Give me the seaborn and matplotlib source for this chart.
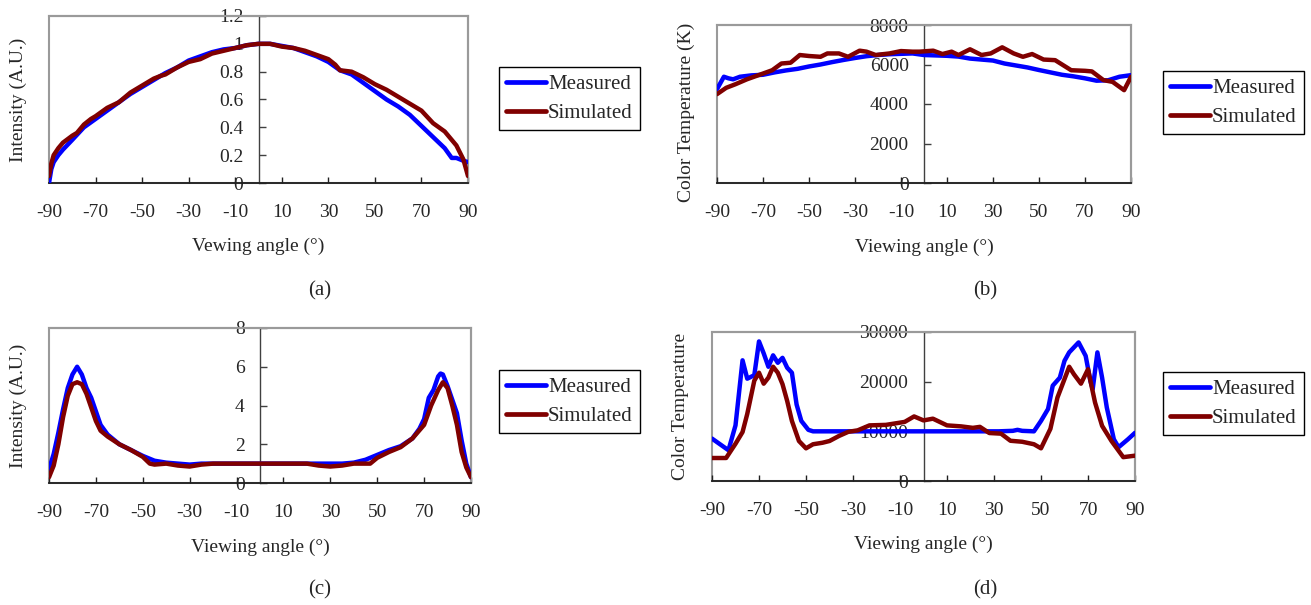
import numpy as np
import pandas as pd
import matplotlib
matplotlib.use("Agg")
import matplotlib.pyplot as plt
import seaborn as sns
from matplotlib.patches import Rectangle
from matplotlib.lines import Line2D

# ---------------- data ----------------
# (a) intensity, normal
a_x_meas = [-90, -89, -88, -86, -84, -80, -75, -70, -65, -60,
            -55, -50, -45, -40, -35, -30, -25, -20, -15, -10,
            -5, 0, 5, 10, 15, 20, 25, 30, 35, 40,
            45, 50, 55, 60, 65, 70, 75, 80, 83, 85,
            88, 90]
a_meas = [0.0, 0.10, 0.15, 0.20, 0.24, 0.31, 0.40, 0.46, 0.52, 0.58,
          0.64, 0.69, 0.74, 0.79, 0.83, 0.88, 0.91, 0.94, 0.96, 0.97,
          0.99, 1.0, 1.0, 0.985, 0.97, 0.94, 0.91, 0.87, 0.81, 0.78,
          0.72, 0.66, 0.60, 0.55, 0.49, 0.41, 0.33, 0.25, 0.18, 0.18,
          0.16, 0.15]
a_x_sim = [-90, -89, -88, -86, -84, -80, -78, -75, -72, -70,
           -65, -60, -55, -50, -45, -42, -40, -35, -30, -25,
           -20, -15, -10, -5, 0, 5, 10, 15, 20, 25,
           30, 33, 35, 40, 45, 50, 55, 60, 65, 70,
           75, 80, 85, 88, 90]
a_sim = [0.05, 0.14, 0.20, 0.25, 0.29, 0.34, 0.36, 0.42, 0.46, 0.48,
         0.54, 0.58, 0.65, 0.70, 0.75, 0.77, 0.78, 0.83, 0.87, 0.89,
         0.93, 0.95, 0.97, 0.99, 1.0, 1.0, 0.98, 0.97, 0.95, 0.92,
         0.89, 0.85, 0.81, 0.80, 0.76, 0.71, 0.67, 0.62, 0.57, 0.52,
         0.43, 0.37, 0.27, 0.17, 0.05]

# (b) color temperature, normal
b_x_meas = [-90, -87, -85, -83, -80, -75, -70, -65, -60, -55,
            -50, -45, -40, -35, -30, -25, -20, -15, -10, -5,
            0, 5, 10, 15, 20, 25, 30, 35, 40, 45,
            50, 55, 60, 65, 70, 75, 80, 85, 90]
b_meas = [4750, 5380, 5300, 5250, 5380, 5450, 5480, 5600, 5700, 5780,
          5900, 6000, 6120, 6230, 6330, 6420, 6480, 6520, 6540, 6560,
          6480, 6460, 6440, 6400, 6300, 6250, 6200, 6050, 5950, 5850,
          5720, 5600, 5480, 5400, 5300, 5180, 5200, 5380, 5460]
b_x_sim = [-90, -86, -82, -77, -71, -66, -62, -58, -54, -50,
           -45, -42, -37, -33, -28, -25, -21, -15, -10, -5,
           -2, 4, 8, 12, 15, 20, 25, 29, 34, 39,
           43, 47, 52, 57, 64, 70, 73, 78, 82, 87,
           90]
b_sim = [4500, 4820, 5000, 5250, 5500, 5710, 6050, 6090, 6480, 6430,
         6390, 6560, 6560, 6390, 6700, 6650, 6480, 6560, 6680, 6650,
         6650, 6700, 6530, 6650, 6480, 6770, 6480, 6560, 6870, 6560,
         6390, 6530, 6250, 6220, 5710, 5680, 5650, 5210, 5120, 4700,
         5380]

# (c) intensity, batwing
c_x_meas = [-90, -88, -86, -84, -82, -80, -78, -76, -74, -72,
            -70, -68, -65, -60, -55, -50, -45, -40, -35, -30,
            -25, -20, -10, 0, 10, 20, 30, 35, 40, 45,
            50, 55, 60, 65, 68, 70, 72, 74, 76, 77,
            78, 80, 82, 84, 86, 88, 90]
c_meas = [0.7, 1.5, 2.6, 3.8, 4.9, 5.6, 6.0, 5.6, 4.9, 4.4,
          3.7, 3.0, 2.5, 2.0, 1.7, 1.4, 1.15, 1.05, 1.0, 0.95,
          1.0, 1.0, 1.0, 1.0, 1.0, 1.0, 1.0, 1.0, 1.05, 1.2,
          1.45, 1.7, 1.9, 2.3, 2.8, 3.3, 4.4, 4.8, 5.5, 5.65,
          5.6, 5.0, 4.3, 3.6, 2.2, 1.0, 0.3]
c_x_sim = [-90, -88, -86, -84, -82, -80, -78, -76, -74, -72,
           -70, -68, -65, -60, -55, -50, -47, -45, -40, -35,
           -30, -25, -20, -10, 0, 10, 20, 25, 30, 35,
           40, 47, 50, 55, 60, 65, 70, 73, 76, 78,
           80, 82, 84, 86, 88, 90]
c_sim = [0.3, 0.9, 2.0, 3.4, 4.5, 5.1, 5.2, 5.1, 4.6, 3.9,
         3.2, 2.7, 2.4, 2.0, 1.7, 1.35, 1.0, 0.95, 1.0, 0.9,
         0.85, 0.95, 1.0, 1.0, 1.0, 1.0, 1.0, 0.9, 0.85, 0.9,
         1.0, 1.0, 1.3, 1.6, 1.85, 2.3, 3.0, 4.0, 4.8, 5.2,
         4.9, 4.0, 3.0, 1.6, 0.8, 0.3]

# (d) color temperature, batwing
d_x_meas = [-90, -83, -80, -77, -75, -72, -70, -68, -66, -64,
            -62, -60, -58, -56, -54, -52, -49, -47, -40, -20,
            0, 20, 32, 38, 40, 42, 47, 50, 53, 55,
            58, 60, 62, 66, 69, 71, 72, 74, 76, 78,
            81, 83, 87, 90]
d_meas = [8540, 6200, 11200, 24300, 20600, 21300, 28100, 25700, 23000, 25300,
          23800, 24800, 22800, 21800, 15400, 12100, 10300, 10000, 10000, 10000,
          10000, 10000, 10000, 10100, 10300, 10100, 10000, 12100, 14500, 19200,
          20800, 24200, 25900, 27900, 25200, 20200, 18500, 25900, 20800, 14800,
          8400, 6800, 8400, 9700]
d_x_sim = [-90, -84, -80, -77, -75, -72, -70, -68, -66, -64,
           -62, -60, -58, -56, -53, -50, -47, -43, -40, -36,
           -32, -28, -23, -16, -8, -4, 0, 4, 10, 16,
           21, 24, 28, 33, 37, 42, 47, 50, 54, 57,
           62, 64, 67, 70, 73, 76, 80, 85, 90]
d_sim = [4630, 4630, 7500, 9860, 13500, 20200, 21800, 19600, 20800, 23000,
         21800, 19500, 16100, 12100, 8050, 6580, 7400, 7700, 8050, 9060,
         9900, 10200, 11200, 11300, 11900, 13000, 12200, 12550, 11200, 11000,
         10700, 10900, 9660, 9530, 8100, 7900, 7400, 6580, 10500, 16800,
         23000, 21500, 19600, 22500, 15800, 11100, 8050, 4800, 5100]

x_ticks = [-90, -70, -50, -30, -10, 10, 30, 50, 70, 90]
series_names = ["Measured", "Simulated"]
colors = {"Measured": "#0000FF", "Simulated": "#800000"}

# ---------------- style ----------------
sns.set_style("white")
plt.rcParams["font.family"] = ["Liberation Serif", "DejaVu Serif"]

W, H = 1311, 605
fig = plt.figure(figsize=(W / 100, H / 100), dpi=100)

TICK_FS = 14
LAB_FS = 14
LEG_FS = 15


def px_axes(l, t, r, b):
    return fig.add_axes([l / W, 1 - b / H, (r - l) / W, (b - t) / H])


def draw(ax, xm, ym, xs, ys, yticks, ytlabels, ylabel, xlabel, ylab_x, xlab_y,
         leg_xy, ylab_y=0.5):
    df = pd.concat([
        pd.DataFrame({"angle": xm, "value": ym, "series": "Measured"}),
        pd.DataFrame({"angle": xs, "value": ys, "series": "Simulated"}),
    ], ignore_index=True)
    sns.lineplot(data=df, x="angle", y="value", hue="series", palette=colors,
                 estimator=None, sort=False, linewidth=3.2, legend=False,
                 ax=ax, zorder=3)
    ax.set_xlim(-90, 90)
    ax.set_ylim(yticks[0], yticks[-1])
    ax.set_xticks(x_ticks)
    ax.set_xticklabels([str(v) for v in x_ticks])
    ax.set_yticks(yticks)
    ax.set_yticklabels(ytlabels)
    ax.spines["left"].set_position(("data", 0))
    ax.spines["left"].set_color("#404040")
    ax.spines["left"].set_linewidth(1.0)
    ax.spines["bottom"].set_color("#202020")
    ax.spines["bottom"].set_linewidth(1.3)
    for s in ("top", "right"):
        ax.spines[s].set_color("#9a9a9a")
        ax.spines[s].set_linewidth(1.5)
    ax.add_patch(Rectangle((0, 0), 1, 1, transform=ax.transAxes, fill=False,
                           ec="#9a9a9a", lw=1.5, clip_on=False, zorder=0))
    ax.tick_params(axis="x", direction="in", length=4, width=1, pad=15,
                   labelsize=TICK_FS, bottom=True, color="#202020")
    ax.tick_params(axis="y", direction="in", length=5, width=1, pad=11,
                   labelsize=TICK_FS, left=True, color="#404040")
    ax.set_ylabel(ylabel, fontsize=LAB_FS)
    ax.yaxis.set_label_coords(ylab_x, ylab_y)
    ax.set_xlabel(xlabel, fontsize=LAB_FS)
    ax.xaxis.set_label_coords(0.5, xlab_y)
    handles = [Line2D([], [], color=colors[n], lw=3.4) for n in series_names]
    leg = ax.legend(handles, series_names, loc="upper left",
                    bbox_to_anchor=(leg_xy[0] / W, 1 - leg_xy[1] / H),
                    bbox_transform=fig.transFigure, fontsize=LEG_FS,
                    frameon=True, fancybox=False, edgecolor="black",
                    framealpha=1, borderpad=0.35, handlelength=1.9,
                    handletextpad=0.1, labelspacing=0.45, borderaxespad=0)
    leg.get_frame().set_linewidth(1.0)


ax_a = px_axes(49, 16, 468, 183)
draw(ax_a, a_x_meas, a_meas, a_x_sim, a_sim,
     [0, 0.2, 0.4, 0.6, 0.8, 1.0, 1.2],
     ["0", "0.2", "0.4", "0.6", "0.8", "1", "1.2"],
     "Intensity (A.U.)", "Vewing angle (°)", -0.052, -0.33, (499, 67))

ax_b = px_axes(717, 25, 1131, 183)
draw(ax_b, b_x_meas, b_meas, b_x_sim, b_sim,
     [0, 2000, 4000, 6000, 8000],
     ["0", "2000", "4000", "6000", "8000"],
     "Color Temperature (K)", "Viewing angle (°)", -0.053, -0.355, (1163, 71),
     ylab_y=0.45)

ax_c = px_axes(49, 328, 471, 483)
draw(ax_c, c_x_meas, c_meas, c_x_sim, c_sim,
     [0, 2, 4, 6, 8], ["0", "2", "4", "6", "8"],
     "Intensity (A.U.)", "Viewing angle (°)", -0.052, -0.36, (499, 370))

ax_d = px_axes(712, 332, 1135, 481)
draw(ax_d, d_x_meas, d_meas, d_x_sim, d_sim,
     [0, 10000, 20000, 30000], ["0", "10000", "20000", "30000"],
     "Color Temperature", "Viewing angle (°)", -0.055, -0.37, (1163, 372))

for lab, x, y in [("(a)", 320, 291), ("(b)", 985, 291),
                  ("(c)", 320, 590), ("(d)", 985, 590)]:
    fig.text(x / W, 1 - y / H, lab, ha="center", va="center", fontsize=15)

fig.savefig("out.png", dpi=100)
